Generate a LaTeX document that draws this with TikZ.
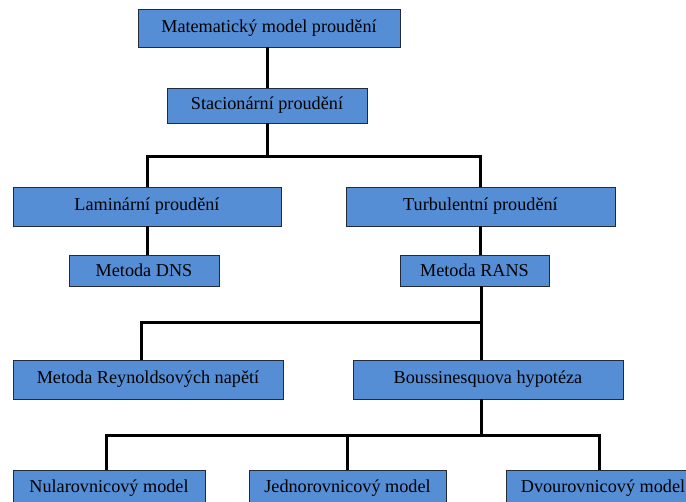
\documentclass[tikz,border=0pt]{standalone}
\usepackage{fontspec}
\setmainfont{Liberation Serif}
\definecolor{boxblue}{RGB}{85,142,213}
\definecolor{boxline}{RGB}{35,42,56}
\begin{document}
\begin{tikzpicture}[x=1pt,y=-1pt,
  box/.style={draw=boxline,line width=0.9pt,fill=boxblue,rectangle,inner sep=0pt,
    font=\fontsize{18.2}{21}\selectfont,text=black},
  conn/.style={draw=black,line width=3pt,line cap=butt}]
\useasboundingbox (0,0) rectangle (686,502);
\clip (0,0) rectangle (686,502);
\fill[white] (0,0) rectangle (686,502);
\node[box,minimum width=262pt,minimum height=38pt] (mat) at (269,28) {Matematický model proudění};
\node[box,minimum width=200pt,minimum height=35pt] (stac) at (267,105.5) {Stacionární proudění};
\node[box,minimum width=268pt,minimum height=39pt] (lam) at (147,206.5) {Laminární proudění};
\node[box,minimum width=269pt,minimum height=39pt] (turb) at (480.5,206.5) {Turbulentní proudění};
\node[box,minimum width=150pt,minimum height=31pt] (dns) at (144,270.5) {Metoda DNS};
\node[box,minimum width=149pt,minimum height=31pt] (rans) at (474.5,270.5) {Metoda RANS};
\node[box,minimum width=270pt,minimum height=39pt] (reyn) at (148,379.5) {Metoda Reynoldsových napětí};
\node[box,minimum width=270pt,minimum height=39pt] (bouss) at (488,379.5) {Boussinesquova hypotéza};
\node[box,minimum width=192pt,minimum height=36pt] (nul) at (109,488) {Nularovnicový model};
\node[box,minimum width=197pt,minimum height=36pt] (jedn) at (347.5,488) {Jednorovnicový model};
\node[box,minimum width=194pt,minimum height=36pt] (dvou) at (603,488) {Dvourovnicový model};
\coordinate (j1) at (267,157);
\coordinate (j2) at (481,323);
\coordinate (j2l) at (141,323);
\coordinate (j3) at (481,436);
\coordinate (j3l) at (106,436);
\coordinate (j3m) at (347,436);
\coordinate (j3r) at (599,436);
\draw[conn] (stac.north |- mat.south) -- (stac.north);
\draw[conn] (stac.south) -- (j1);
\draw[conn] (lam.north) -- (lam.north |- j1) -- (turb.north |- j1) -- (turb.north);
\draw[conn] (lam.south) -- (lam.south |- dns.north);
\draw[conn] (turb.south) -- (turb.south |- rans.north);
\draw[conn] (j2 |- rans.south) -- (j2);
\draw[conn] (j2l |- reyn.north) -- (j2l) -- (j2) -- (j2 |- bouss.north);
\draw[conn] (j3 |- bouss.south) -- (j3);
\draw[conn] (j3l |- nul.north) -- (j3l) -- (j3r) -- (j3r |- dvou.north);
\draw[conn] (j3m) -- (j3m |- jedn.north);
\end{tikzpicture}
\end{document}
